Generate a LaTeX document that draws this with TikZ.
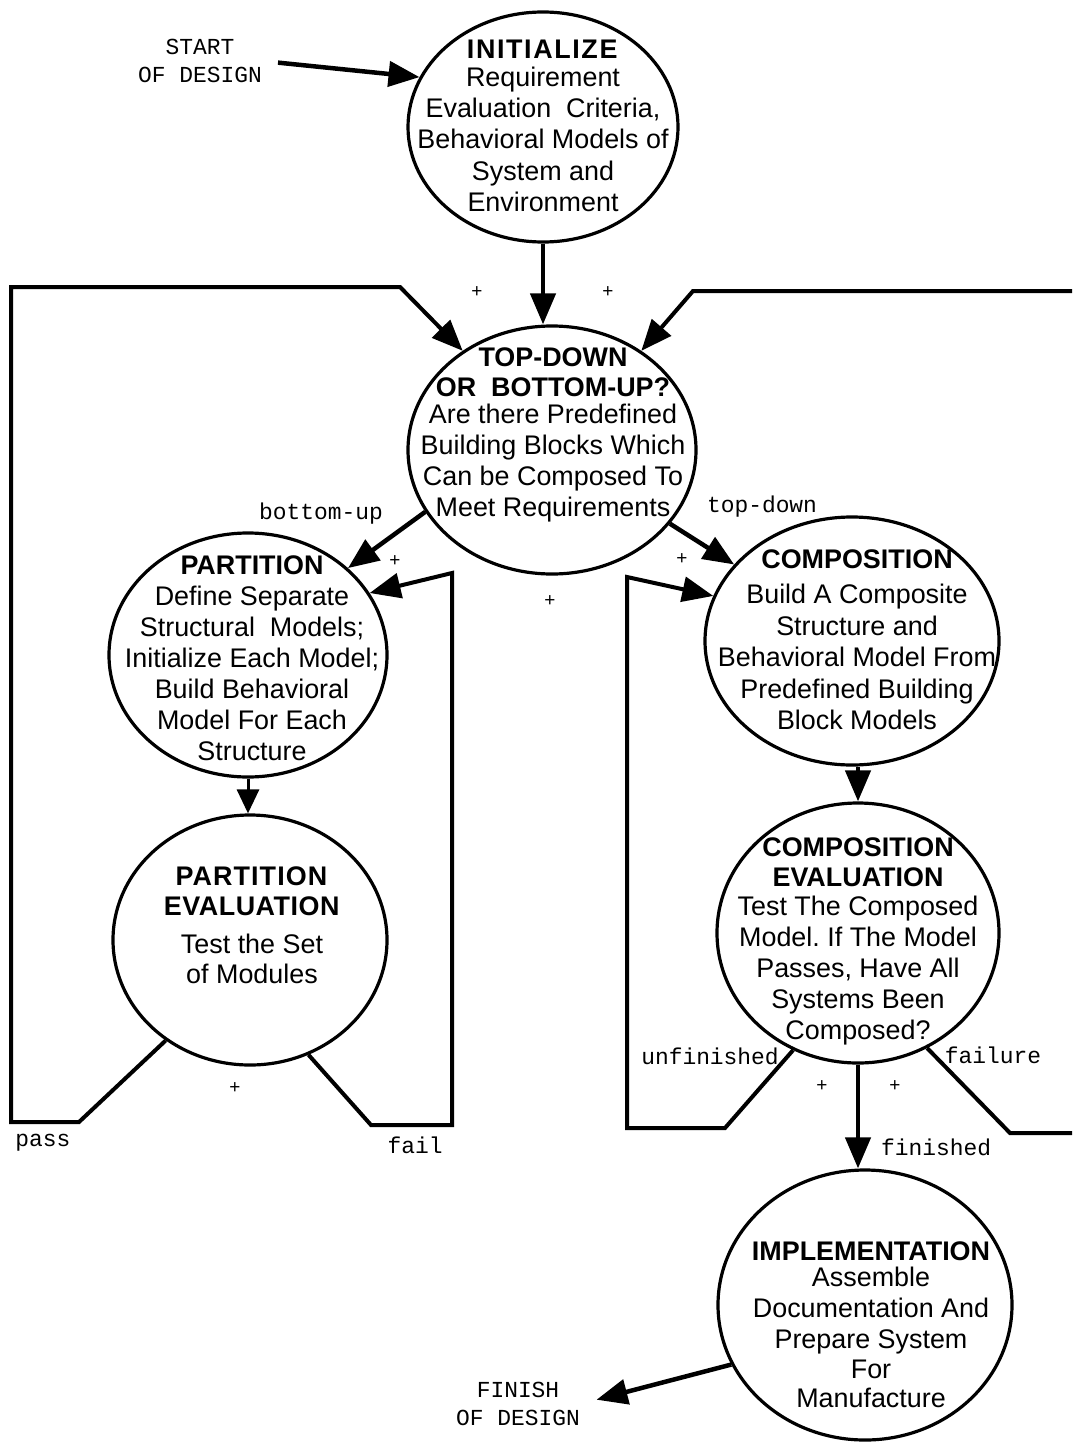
\documentclass[tikz,border=0pt]{standalone}
\usepackage{fontspec}
\setmainfont{Liberation Sans}
\newfontfamily\monofnt{Liberation Mono}
\usetikzlibrary{shapes.geometric,arrows.meta}
\frenchspacing
\begin{document}
\begin{tikzpicture}[x=1bp,y=-1bp,
  stage/.style={draw, ellipse, line width=3.2bp, inner sep=0pt},
  ctext/.style={align=center, inner sep=0pt, anchor=north, font=\fontsize{27}{31}\selectfont},
  lab/.style={inner sep=0pt, font=\monofnt\fontsize{23}{28}\selectfont},
  termtext/.style={align=center, inner sep=0pt, font=\monofnt\fontsize{23}{28.5}\selectfont},
  plussign/.style={inner sep=0pt, font=\fontsize{19}{19}\selectfont},
  arr/.style={line width=4.5bp, -{Triangle[length=31bp,width=25bp]}},
  sarr/.style={line width=3bp, -{Triangle[length=24bp,width=22bp]}},
  looparr/.style={line width=4bp, -{Triangle[length=31bp,width=25bp]}},
]
\useasboundingbox (0,0) rectangle (1072,1443);

% stages
\node[stage, minimum width=270bp, minimum height=230bp] (init)  at (543,127) {};
\node[stage, minimum width=288bp, minimum height=248bp] (td)    at (552,450) {};
\node[stage, minimum width=278bp, minimum height=244bp] (part)  at (248,655) {};
\node[stage, minimum width=274bp, minimum height=250bp] (peval) at (250,940) {};
\node[stage, minimum width=294bp, minimum height=248bp] (comp)  at (852,641) {};
\node[stage, minimum width=282bp, minimum height=260bp] (ceval) at (858,933) {};
\node[stage, minimum width=294bp, minimum height=270bp] (impl)  at (865,1305) {};

% texts in stages
\node[ctext] (initT) at (543,40) {\textbf{\addfontfeature{LetterSpace=6}INITIALIZE}\\[-3.5bp]
  Requirement\\[0.5bp] Evaluation\ \ Criteria,\\[0.5bp] Behavioral Models of\\[0.5bp] System and\\[0.5bp] Environment};
\node[ctext] (tdT) at (553,348) {\textbf{TOP-DOWN}\\[-1bp] \textbf{OR\ \ BOTTOM-UP?}\\[-4bp]
  Are there Predefined\\ Building Blocks Which\\ Can be Composed To\\ Meet Requirements};
\node[ctext] (partT) at (252,556) {\textbf{PARTITION}\\ Define Separate\\ Structural\ \ Models;\\
  Initialize Each Model;\\ Build Behavioral\\ Model For Each\\ Structure};
\node[ctext] (pevalT) at (252,867) {\textbf{\addfontfeature{LetterSpace=4}PARTITION}\\[-1bp]
  \textbf{\addfontfeature{LetterSpace=2}EVALUATION}\\[7bp] Test the Set\\[-1bp] of Modules};
\node[ctext] (compT) at (857,550) {\textbf{COMPOSITION}\\[4bp] Build A Composite\\[0.5bp] Structure and\\[0.5bp]
  Behavioral Model From\\[0.5bp] Predefined Building\\[0.5bp] Block Models};
\node[ctext] (cevalT) at (858,838) {\textbf{COMPOSITION}\\[-1bp] \textbf{EVALUATION}\\[-2bp]
  Test The Composed\\ Model. If The Model\\ Passes, Have All\\ Systems Been\\ Composed?};
\node[ctext] (implT) at (871,1242) {\textbf{IMPLEMENTATION}\\[-5bp] Assemble\\ Documentation And\\
  Prepare System\\[-1.5bp] For\\[-1.5bp] Manufacture};

% start / finish
\node[termtext] (start)  at (200,61)   {START\\OF DESIGN};
\node[termtext] (finish) at (518,1404) {FINISH\\OF DESIGN};

% labels
\node[lab] (lbu)      at (321,514)  {bottom-up};
\node[lab] (ltd)      at (762,507)  {top-down};
\node[lab] (lpass)    at (43,1143)  {pass};
\node[lab] (lfail)    at (415,1145) {fail};
\node[lab] (lunf)     at (710,1056) {unfinished};
\node[lab] (lfailure) at (993,1055) {failure};
\node[lab] (lfin)     at (936,1147) {finished};

% plus marks
\node[plussign] (p1) at (477,292)  {+};
\node[plussign] (p2) at (608,292)  {+};
\node[plussign] (p3) at (395,561)  {+};
\node[plussign] (p4) at (682,559)  {+};
\node[plussign] (p5) at (550,601)  {+};
\node[plussign] (p6) at (235,1088) {+};
\node[plussign] (p7) at (822,1086) {+};
\node[plussign] (p8) at (895,1086) {+};

% bend coordinates
\coordinate (pl1) at (79,1122);
\coordinate (pl2) at (11,1122);
\coordinate (pl3) at (11,287);
\coordinate (pl4) at (400,287);
\coordinate (fl1) at (371,1125);
\coordinate (fl2) at (452,1125);
\coordinate (fl3) at (452,573);
\coordinate (ul1) at (725,1128);
\coordinate (ul2) at (627,1128);
\coordinate (ul3) at (627,577);
\coordinate (rl1) at (1010,1133);
\coordinate (rl2) at (1095,1133);
\coordinate (rl3) at (1095,291);
\coordinate (rl4) at (693,291);

% connectors
\draw[arr, shorten <=16bp] (start.east) -- (init.158);
\draw[arr] (init.south) -- (init.south |- td.north);
\draw[arr] (td.206) -- (part.41);
\draw[arr] (td.328) -- (comp.147);
\draw[sarr] (part.south) -- (part.south |- peval.north);
\draw[arr] (ceval.north |- comp.south) -- (ceval.north);
\draw[arr] (ceval.south) -- (ceval.south |- impl.north);
\draw[arr, shorten >=17bp] (impl.204) -- (finish.east);

\draw[looparr] (peval.230) -- (pl1) -- (pl2) -- (pl3) -- (pl4) -- (td.132);
\draw[looparr] (peval.297) -- (fl1) -- (fl2) -- (fl3) -- (part.27);
\draw[looparr] (ceval.241) -- (ul1) -- (ul2) -- (ul3) -- (comp.162);
\begin{scope}
  \clip (0,0) rectangle (1072,1443);
  \draw[looparr] (ceval.301) -- (rl1) -- (rl2) -- (rl3) -- (rl4) -- (td.48);
\end{scope}
\end{tikzpicture}
\end{document}
